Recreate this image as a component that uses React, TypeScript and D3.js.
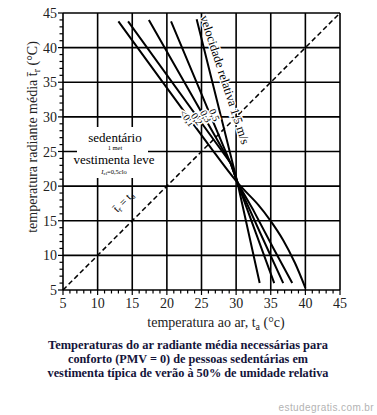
import React from "react";
import * as d3 from "d3";

// ---- data ----
const xTicks = [5, 10, 15, 20, 25, 30, 35, 40, 45];
const yTicks = [5, 10, 15, 20, 25, 30, 35, 40, 45];
const minorTicks = d3.range(5, 46, 1);

// comfort lines (t_a, t_r) for relative air velocities
const velocityNames = ["<0,1", "0,2", "0,3", "0,5", "1,5"];
const lineLt01: [number, number][] = [
  [13.0, 43.8], [20.5, 33.5], [26.0, 26.0], [30.2, 20.5],
  [33.2, 17.3], [34.9, 15.1], [36.8, 12.2], [38.5, 8.9], [40.0, 5.3],
];
const line02: [number, number][] = [
  [14.4, 43.8], [29.3, 23.2], [30.2, 20.5],
  [32.5, 16.5], [35.4, 11.0], [38.1, 6.0],
];
const line03: [number, number][] = [
  [17.4, 44.0], [29.2, 23.3], [30.2, 20.5],
  [33.5, 13.2], [36.8, 6.0],
];
const line05: [number, number][] = [
  [20.6, 43.8], [29.2, 23.3], [30.2, 20.5],
  [32.9, 13.1], [35.5, 6.0],
];
const line15: [number, number][] = [
  [24.3, 44.1], [30.2, 20.5], [33.4, 6.0],
];
const comfortLines = [lineLt01, line02, line03, line05, line15];
const diagonal: [number, number][] = [[5, 5], [45, 45]];

const captionLines = [
  "Temperaturas do ar radiante média necessárias para",
  "conforto (PMV = 0) de pessoas sedentárias em",
  "vestimenta típica de verão à 50% de umidade relativa",
];

// annotation anchors (data coords) for velocity labels
const velLabelAnchors = [
  { x: 22.8, y: 29.7, a: 54 },
  { x: 24.2, y: 29.6, a: 54 },
  { x: 25.5, y: 30.0, a: 60 },
  { x: 26.7, y: 30.2, a: 66 },
];

const serif = "'Liberation Serif', 'Times New Roman', serif";

export default function App() {
  const x = d3.scaleLinear().domain([5, 45]).range([63, 340]);
  const y = d3.scaleLinear().domain([5, 45]).range([290, 13]);
  const curved = d3
    .line<[number, number]>()
    .x((d) => x(d[0]))
    .y((d) => y(d[1]))
    .curve(d3.curveCatmullRom.alpha(0.5));
  const straight = d3
    .line<[number, number]>()
    .x((d) => x(d[0]))
    .y((d) => y(d[1]));

  return (
    <svg
      width={377}
      height={415}
      style={{ position: "absolute", left: 0, top: 0, background: "#fff" }}
      fontFamily={serif}
    >
      <rect width={377} height={415} fill="#fff" />
      {/* grid */}
      {xTicks.map((v) => (
        <line key={"gx" + v} x1={x(v)} x2={x(v)} y1={y(5)} y2={y(45)} stroke="#000" strokeWidth={1.6} />
      ))}
      {yTicks.map((v) => (
        <line key={"gy" + v} x1={x(5)} x2={x(45)} y1={y(v)} y2={y(v)} stroke="#000" strokeWidth={1.6} />
      ))}
      {/* minor ticks */}
      {minorTicks.map((v) => (
        <line key={"mx" + v} x1={x(v)} x2={x(v)} y1={y(5)} y2={y(5) + (v % 5 === 0 ? 5 : 3.5)} stroke="#000" strokeWidth={1.2} />
      ))}
      {minorTicks.map((v) => (
        <line key={"my" + v} x1={x(5) - (v % 5 === 0 ? 5 : 3.5)} x2={x(5)} y1={y(v)} y2={y(v)} stroke="#000" strokeWidth={1.2} />
      ))}
      {/* white box behind activity text */}
      <rect x={77} y={127} width={71} height={51} fill="#fff" />
      {/* tick labels */}
      {xTicks.map((v) => (
        <text key={"tx" + v} x={x(v)} y={308} fontSize={14} textAnchor="middle" fill="#222">
          {v}
        </text>
      ))}
      {yTicks.map((v) => (
        <text key={"ty" + v} x={57} y={y(v) + 5} fontSize={14} textAnchor="end" fill="#222">
          {v}
        </text>
      ))}
      {/* diagonal */}
      <path d={straight(diagonal) || ""} stroke="#000" strokeWidth={1.5} strokeDasharray="5,3" fill="none" />
      {/* comfort lines */}
      {comfortLines.map((pts, i) => (
        <path
          key={"cl" + i}
          d={(i === 0 ? curved(pts) : straight(pts)) || ""}
          stroke="#000"
          strokeWidth={2}
          strokeLinejoin="round"
          fill="none"
        />
      ))}
      {/* velocity labels */}
      {velLabelAnchors.map((p, i) => (
        <text
          key={"vl" + i}
          transform={`translate(${x(p.x)},${y(p.y)}) rotate(${p.a})`}
          fontSize={10}
          textAnchor="middle"
          dominantBaseline="middle"
          stroke="#fff"
          strokeWidth={3}
          paintOrder="stroke"
          fill="#000"
        >
          {velocityNames[i]}
        </text>
      ))}
      <text
        transform={`translate(${x(28.2)},${y(35.3)}) rotate(72)`}
        fontSize={12.5}
        textAnchor="middle"
        dominantBaseline="middle"
        stroke="#fff"
        strokeWidth={2.5}
        paintOrder="stroke"
        fill="#000"
      >
        {"velocidade relativa " + velocityNames[4] + " m/s"}
      </text>
      {/* activity text */}
      <text x={115} y={142} fontSize={13} textAnchor="middle">sedentário</text>
      <text x={115} y={150} fontSize={6.5} textAnchor="middle">1 met</text>
      <text x={114} y={164} fontSize={13} textAnchor="middle">vestimenta leve</text>
      <text x={114} y={174} fontSize={6.5} textAnchor="middle">
        <tspan fontStyle="italic">I</tspan>
        <tspan fontSize={5} dy={1}>cl</tspan>
        <tspan dy={-1}>=0,5clo</tspan>
      </text>
      {/* tr = ta label */}
      <text transform={`translate(${x(14.1)},${y(17.4)}) rotate(-45)`} fontSize={11} textAnchor="middle">
        <tspan>{"t\u0304"}</tspan>
        <tspan fontSize={8} dy={2}>r</tspan>
        <tspan dy={-2}> = t</tspan>
        <tspan fontSize={8} dy={2}>a</tspan>
      </text>
      {/* axis titles */}
      <text transform="translate(37,137) rotate(-90)" fontSize={14} textAnchor="middle" fill="#222">
        <tspan>{"temperatura radiante média t\u0304"}</tspan>
        <tspan fontSize={10} dy={3}>r</tspan>
        <tspan dy={-3}> (°C)</tspan>
      </text>
      <text x={216} y={327} fontSize={14} textAnchor="middle" fill="#222">
        <tspan>temperatura ao ar, t</tspan>
        <tspan fontSize={10} dy={3}>a</tspan>
        <tspan dy={-3}> (°c)</tspan>
      </text>
      {/* caption */}
      {captionLines.map((s, i) => (
        <text
          key={"cap" + i}
          x={188}
          y={349 + i * 14}
          fontSize={12.5}
          fontWeight="bold"
          textAnchor="middle"
          fill="#14143a"
          textLength={[280, 240, 281][i]}
          lengthAdjust="spacingAndGlyphs"
        >
          {s}
        </text>
      ))}
      {/* watermark */}
      <text
        x={374}
        y={411}
        fontSize={10}
        textAnchor="end"
        fill="#b3b3b3"
        letterSpacing={0.4}
        fontFamily="'Liberation Sans', Arial, sans-serif"
      >
        estudegratis.com.br
      </text>
    </svg>
  );
}
